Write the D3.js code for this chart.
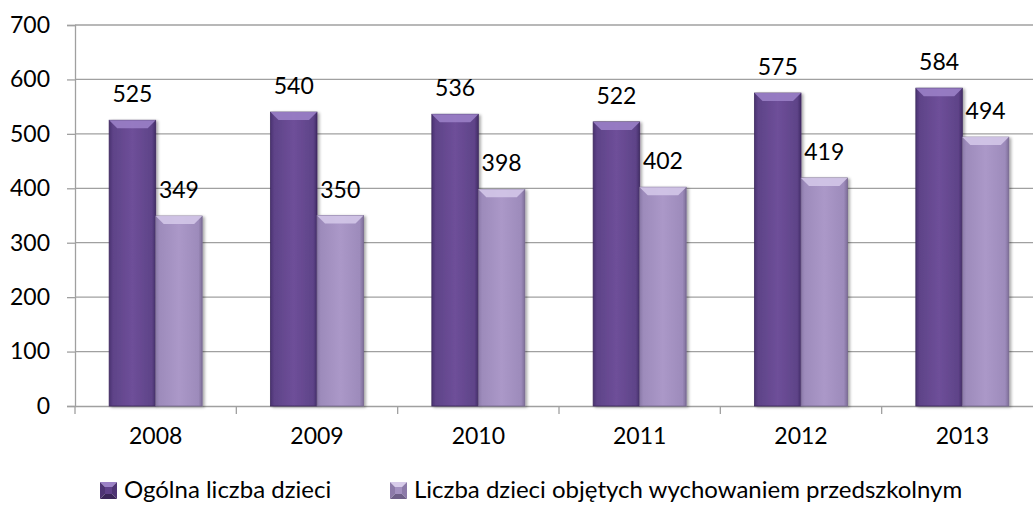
<!DOCTYPE html>
<html><head><meta charset="utf-8">
<script src="https://cdn.jsdelivr.net/npm/d3@7"></script>
<style>
html,body{margin:0;padding:0;background:#fff;overflow:hidden}
svg{display:block;font-family:Lato,"Open Sans",sans-serif}
</style></head>
<body>
<svg id="c" width="1033" height="510"></svg>
<script>
const years = ["2008","2009","2010","2011","2012","2013"];
const seriesNames = ["Ogólna liczba dzieci","Liczba dzieci objętych wychowaniem przedszkolnym"];
const ogolna = [525,540,536,522,575,584];
const objete = [349,350,398,402,419,494];
const yTicks = [0,100,200,300,400,500,600,700];

const svg = d3.select("#c");
const mL = 75, mR = 1043, mT = 25, mB = 406;

const x0 = d3.scaleBand().domain(years).range([mL,mR]).padding(0);
const x1 = d3.scaleBand().domain(seriesNames).range([0,x0.bandwidth()]).paddingInner(0).paddingOuter(0.735);
const y = d3.scaleLinear().domain([0,700]).range([mB,mT]);

const defs = svg.append("defs");
function grad(id, stops){
  const g = defs.append("linearGradient").attr("id",id).attr("x1","0").attr("x2","1").attr("y1","0").attr("y2","0");
  stops.forEach(s=>g.append("stop").attr("offset",s[0]).attr("stop-color",s[1]));
}
grad("gDark",[[0,"#4a3271"],[0.08,"#5e4388"],[0.5,"#6e4f99"],[0.92,"#5e4388"],[1,"#432d67"]]);
grad("gLight",[[0,"#8a79a8"],[0.08,"#9d8bbb"],[0.5,"#ab98c8"],[0.92,"#9d8bbb"],[1,"#7e6e99"]]);
const bevel = {dark:"#9a7fc6", light:"#d3c6e8"};
const flt = defs.append("filter").attr("id","sh").attr("x","-20%").attr("y","-5%").attr("width","150%").attr("height","115%");
flt.append("feGaussianBlur").attr("in","SourceAlpha").attr("stdDeviation",1.5);
flt.append("feOffset").attr("dx",2).attr("dy",1).attr("result","b");
flt.append("feComponentTransfer").append("feFuncA").attr("type","linear").attr("slope",0.35);
const m = flt.append("feMerge"); m.append("feMergeNode"); m.append("feMergeNode").attr("in","SourceGraphic");

// gridlines
svg.append("g").selectAll("line").data(yTicks.filter(d=>d>0)).join("line")
  .attr("x1",mL).attr("x2",mR).attr("y1",d=>y(d)).attr("y2",d=>y(d))
  .attr("stroke","#a0a0a0").attr("stroke-width",1.3);

// y axis
const ya = svg.append("g").attr("transform",`translate(${mL},0)`)
  .call(d3.axisLeft(y).tickValues(yTicks).tickSize(8).tickPadding(17));
ya.select(".domain").attr("stroke","#a0a0a0").attr("stroke-width",1.3);
ya.selectAll(".tick line").attr("stroke","#a0a0a0").attr("stroke-width",1.3);
ya.selectAll("text").attr("font-size",23).attr("fill","#000").attr("font-family","Lato");

// x axis
const xa = svg.append("g").attr("transform",`translate(0,${mB})`)
  .call(d3.axisBottom(x0).tickSize(0).tickPadding(22));
xa.select(".domain").attr("stroke","#a0a0a0").attr("stroke-width",1.3);
xa.selectAll("text").attr("font-size",23).attr("fill","#000").attr("font-family","Lato");
svg.append("g").selectAll("line").data(years.concat(["end"])).join("line")
  .attr("x1",(d,i)=>mL + i*x0.step()).attr("x2",(d,i)=>mL + i*x0.step())
  .attr("y1",mB).attr("y2",mB+8).attr("stroke","#a0a0a0").attr("stroke-width",1.3);

// bars
const data = years.map((yr,i)=>({yr, vals:[{s:seriesNames[0],v:ogolna[i],k:"dark"},{s:seriesNames[1],v:objete[i],k:"light"}]}));
const groups = svg.append("g").selectAll("g").data(data).join("g")
  .attr("transform",d=>`translate(${x0(d.yr)},0)`);
const bars = groups.selectAll("g").data(d=>d.vals).join("g");
bars.append("rect")
  .attr("x",d=>x1(d.s)).attr("width",x1.bandwidth())
  .attr("y",d=>y(d.v)).attr("height",d=>y(0)-y(d.v))
  .attr("fill",d=>d.k==="dark"?"url(#gDark)":"url(#gLight)")
  .attr("stroke",d=>d.k==="dark"?"#3e2a5e":"#77688f").attr("stroke-width",0.8)
  .attr("filter","url(#sh)");
bars.append("path")
  .attr("d",d=>{const x=x1(d.s), w=x1.bandwidth(), t=y(d.v), b=8;
    return `M${x},${t}L${x+w},${t}L${x+w-b},${t+b}L${x+b},${t+b}Z`;})
  .attr("fill",d=>bevel[d.k]).attr("opacity",0.9);
bars.append("text")
  .attr("x",d=>x1(d.s)+x1.bandwidth()/2).attr("y",d=>y(d.v)-26)
  .attr("dy","0.35em").attr("text-anchor","middle")
  .attr("font-size",23).attr("fill","#000").text(d=>d.v);

// legend
const legX = [100, 390];
const legCol = [
  {mid:"#5f4189", top:"#9c82c6", side:"#4e3474", bot:"#3b2659"},
  {mid:"#a391c0", top:"#d8ccea", side:"#8c7aa9", bot:"#6e5f88"}
];
const s = 17, inset = 5;
const lg = svg.append("g").selectAll("g").data(seriesNames).join("g")
  .attr("transform",(d,i)=>`translate(${legX[i]},482)`);
lg.append("path").attr("d",`M0,0L${s},0L${s-inset},${inset}L${inset},${inset}Z`).attr("fill",(d,i)=>legCol[i].top);
lg.append("path").attr("d",`M0,0L${inset},${inset}L${inset},${s-inset}L0,${s}Z`).attr("fill",(d,i)=>legCol[i].side);
lg.append("path").attr("d",`M${s},0L${s-inset},${inset}L${s-inset},${s-inset}L${s},${s}Z`).attr("fill",(d,i)=>legCol[i].side);
lg.append("path").attr("d",`M0,${s}L${inset},${s-inset}L${s-inset},${s-inset}L${s},${s}Z`).attr("fill",(d,i)=>legCol[i].bot);
lg.append("rect").attr("x",inset).attr("y",inset).attr("width",s-2*inset).attr("height",s-2*inset).attr("fill",(d,i)=>legCol[i].mid);
lg.append("text").attr("x",24).attr("y",16)
  .attr("font-size",24).attr("fill","#000").text(d=>d);
</script>
</body></html>
